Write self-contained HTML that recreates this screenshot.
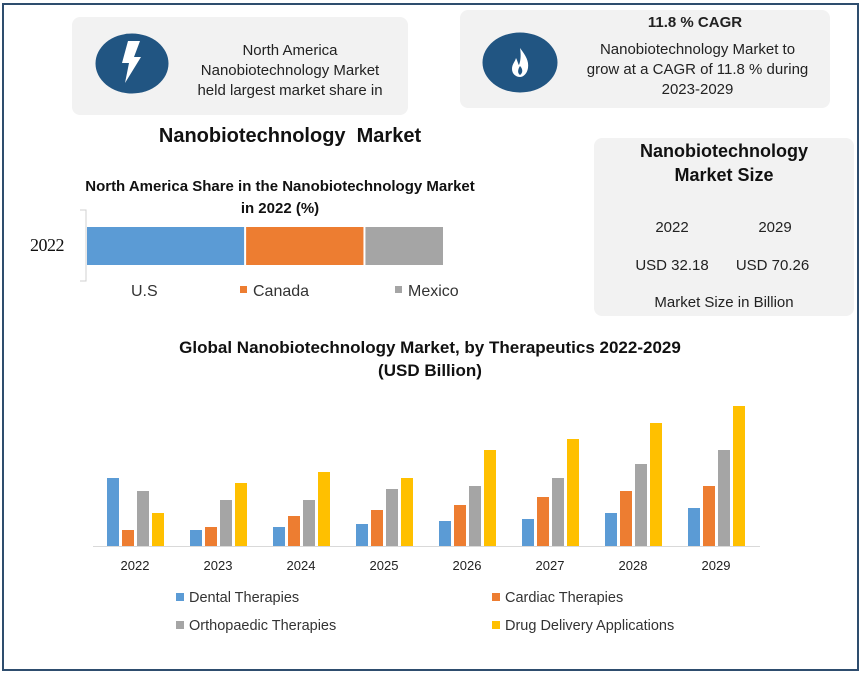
<!DOCTYPE html>
<html><head><meta charset="utf-8"><style>
body{margin:0;width:862px;height:674px;background:#fff;font-family:"Liberation Sans",sans-serif;overflow:hidden}
#frame{position:absolute;left:2px;top:3px;width:853px;height:664px;border:2px solid #2e4d6e}
.box{position:absolute;background:#f2f2f2;border-radius:8px}
.t{position:absolute;text-align:center;color:#222}
</style></head><body>
<div id="frame"></div>

<div class="box" style="left:72px;top:17px;width:336px;height:98px"></div>
<svg style="position:absolute;left:95px;top:33px" width="74" height="61">
<ellipse cx="37" cy="30.5" rx="36.5" ry="30" fill="#215582"/>
<path d="M33 8 L45 8 L39 24 L46 24 L30 50 L34 30 L27 30 Z" fill="#fff"/></svg>
<div class="t" style="left:180px;top:41px;width:220px;font-size:15px;line-height:20px">North America<br>Nanobiotechnology Market<br>held largest market share in</div>

<div class="box" style="left:460px;top:10px;width:370px;height:98px"></div>
<svg style="position:absolute;left:482px;top:32px" width="76" height="61">
<ellipse cx="38" cy="30.5" rx="37.5" ry="30" fill="#215582"/>
<path d="M38 16 C44 24 47 29 46 36 C45 42 41 45 38 45 C34 45 30 42 30 37 C30 32 33 30 34 26 C36 30 36 32 37 33 C39 28 39 22 38 16 Z" fill="#fff"/>
<path d="M38 34 C41 37 41 41 38 43 C35 41 36 37 38 34Z" fill="#215582"/></svg>
<div class="t" style="left:570px;top:14px;width:250px;font-size:15px;font-weight:bold">11.8 % CAGR</div>
<div class="t" style="left:570px;top:40px;width:255px;font-size:15px;line-height:20px">Nanobiotechnology Market to<br>grow at a CAGR of 11.8 % during<br>2023-2029</div>

<div class="t" style="left:120px;top:125px;width:340px;font-size:20px;font-weight:bold;color:#111">Nanobiotechnology&nbsp; Market</div>

<div class="box" style="left:594px;top:138px;width:260px;height:178px"></div>
<div class="t" style="left:594px;top:139px;width:260px;font-size:18px;font-weight:bold;line-height:24px;color:#111">Nanobiotechnology<br>Market Size</div>
<div class="t" style="left:632px;top:219px;width:80px;font-size:15px">2022</div>
<div class="t" style="left:735px;top:219px;width:80px;font-size:15px">2029</div>
<div class="t" style="left:632px;top:257px;width:80px;font-size:15px">USD 32.18</div>
<div class="t" style="left:725px;top:257px;width:95px;font-size:15px">USD 70.26</div>
<div class="t" style="left:594px;top:294px;width:260px;font-size:15px">Market Size in Billion</div>

<div class="t" style="left:60px;top:176px;width:440px;font-size:15px;font-weight:bold;line-height:22px;color:#111">North America Share in the Nanobiotechnology Market<br>in 2022 (%)</div>
<svg id="share" style="position:absolute;left:0;top:200px" width="480" height="110"></svg>

<div class="t" style="left:120px;top:336px;width:620px;font-size:17px;font-weight:bold;line-height:23px;color:#111">Global Nanobiotechnology Market, by Therapeutics 2022-2029<br>(USD Billion)</div>
<svg id="bars" style="position:absolute;left:0;top:380px" width="862" height="270"></svg>

<script>
const shareLabels=["U.S","Canada","Mexico"];
const shareValues=[44,33,22];
const shareColors=["#5b9bd5","#ed7d31","#a5a5a5"];

const years=["2022","2023","2024","2025","2026","2027","2028","2029"];
const dental=[6.8,1.6,1.9,2.2,2.5,2.7,3.3,3.8];
const cardiac=[1.6,1.9,3.0,3.6,4.1,4.9,5.5,6.0];
const ortho=[5.5,4.6,4.6,5.7,6.0,6.8,8.2,9.6];
const drug=[3.3,6.3,7.4,6.8,9.6,10.7,12.3,14.0];
const seriesNames=["Dental Therapies","Cardiac Therapies","Orthopaedic Therapies","Drug Delivery Applications"];
const seriesColors=["#5b9bd5","#ed7d31","#a5a5a5","#ffc000"];

const NS="http://www.w3.org/2000/svg";
function mk(svg,tag,attrs){const e=document.createElementNS(NS,tag);for(const k in attrs)e.setAttribute(k,attrs[k]);svg.appendChild(e);return e;}

const sh=document.getElementById('share');
const total=shareValues.reduce((a,b)=>a+b,0);
const sx=v=>v/total*358;
let ax=mk(sh,'path',{d:'M80 10 H86 V81 H80',fill:'none',stroke:'#d0d0d0'});

let yl=mk(sh,'text',{x:30,y:51,'font-size':18,fill:'#111','font-family':'Liberation Serif, serif','letter-spacing':'-0.5'});yl.textContent='2022';

let cx=87;
const legX=[131,240,395];
shareValues.forEach((v,i)=>{
  const r=mk(sh,'rect',{x:cx,y:27,width:Math.max(0,sx(v)-2),height:38,fill:shareColors[i]});
  
  
  cx+=sx(v);
  if(i>0){const s=mk(sh,'rect',{x:legX[i],y:86,width:7,height:7,fill:shareColors[i]});
    }
  const t=mk(sh,'text',{x:legX[i]+(i>0?13:0),y:96,'font-size':16,fill:'#333'});t.textContent=shareLabels[i];
  
});

const bs=document.getElementById('bars');
const base=166, maxV=14, maxH=140;
const yS=v=>v/maxV*maxH;
const gx=i=>107+i*83;
const bl=mk(bs,'line',{x1:93,x2:760,y1:base+0.5,y2:base+0.5,stroke:'#d9d9d9'});

const all=[dental,cardiac,ortho,drug];
years.forEach((y,i)=>{
  all.forEach((s,j)=>{
    const h=yS(s[i]);
    const r=mk(bs,'rect',{x:gx(i)+j*15,y:base-h,width:12,height:h,fill:seriesColors[j]});
    
    
  });
  const t=mk(bs,'text',{x:gx(i)+28,y:190,'font-size':13,'text-anchor':'middle',fill:'#222'});t.textContent=y;
  
});
const lx=[176,492,176,492], ly=[222,222,250,250];
seriesNames.forEach((n,j)=>{
  const s=mk(bs,'rect',{x:lx[j],y:ly[j]-9,width:8,height:8,fill:seriesColors[j]});
  
  const t=mk(bs,'text',{x:lx[j]+13,y:ly[j],'font-size':14.5,fill:'#333'});t.textContent=n;
  
});
</script>
</body></html>
